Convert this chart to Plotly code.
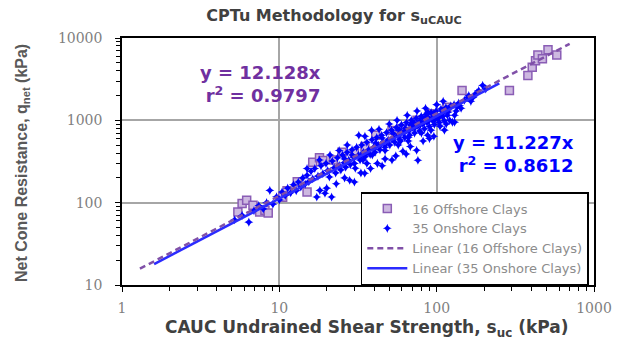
import plotly.graph_objects as go

# CAUC undrained shear strength s_uc (kPa) vs net cone resistance q_net (kPa)

offshore_x = [5.45, 5.8, 6.2, 6.8, 7.5, 8.1, 8.5, 10.5, 11.2, 13, 15, 16.3, 18, 18.9,
              22, 25, 30, 35, 41, 52, 60, 75, 90, 116, 145, 290, 380, 405, 425, 440,
              470, 510, 580]
offshore_y = [77, 98, 107, 93, 77, 81, 75, 116, 140, 180, 135, 310, 350, 325,
              330, 410, 400, 480, 660, 750, 780, 1000, 1200, 1440, 2300, 2300, 3500,
              4400, 5300, 6200, 5600, 7200, 6200]

onshore_x = [5.2, 5.8, 6.4, 6.9, 7.4, 7.9, 8.3, 8.7, 9.1, 9.6, 10.0, 10.4, 10.9, 11.3,
             11.8, 12.3, 12.8, 13.2, 13.7, 14.1, 14.6, 15.0, 15.4, 15.9, 16.3, 16.8,
             17.3, 17.6, 18.1, 18.4, 18.9, 19.5, 19.8, 20.3, 20.8, 21.5, 21.7, 22.3,
             22.8, 23.4, 24.0, 24.6, 25.2, 25.8, 26.4, 27.0, 27.6, 28.0, 28.3, 29.0,
             29.7, 30.0, 30.4, 31.0, 31.8, 32.0, 32.6, 33.4, 34.2, 34.9, 35.1, 36.0,
             36.9, 37.8, 38.6, 38.8, 39.7, 40.6, 41.6, 42.6, 43.6, 44.7, 45.8, 46.9,
             48.0, 49.2, 50.4, 51.6, 52.9, 54.2, 55.5, 56.9, 58.3, 59.7, 61.2, 62.7,
             64.2, 65.8, 67.4, 69.0, 70.7, 72.4, 74.6, 74.2, 76.0, 76.0, 77.9, 79.8,
             81.7, 83.7, 85.7, 87.6, 87.8, 90.0, 92.2, 94.4, 96.7, 99.1, 101.5, 104,
             106.5, 109, 112, 114.5, 117, 121, 123, 126, 129, 133, 138, 143, 150, 158,
             165, 175, 185, 196, 205,
             33, 36, 40, 44, 48, 52, 57, 62, 67, 73, 79, 86, 93, 101, 110, 45, 53, 63,
             72, 83, 95, 108, 26, 29, 41, 58, 68, 78, 88, 98, 118, 130, 140, 57, 66,
             80, 92, 105, 115,
             15, 18, 21, 24, 27, 35, 43, 50, 56, 65, 75, 85, 100, 110,
             20, 23, 26, 33, 38, 42, 47, 55, 61, 68, 82, 96, 112, 130, 45, 52, 36, 64, 90,
             30, 34, 39, 47, 59, 66, 70, 88, 97, 104, 120, 135, 160, 170, 180]
onshore_y = [62, 70, 58, 80, 92, 84, 100, 141, 96, 118, 108, 135, 122, 150,
             132, 165, 140, 178, 155, 200, 168, 215, 180, 240, 195, 260,
             117, 210, 141, 280, 225, 130, 300, 245, 205, 117, 320, 265,
             230, 350, 285, 250, 380, 305, 270, 410, 330, 187, 290, 440,
             355, 178, 262, 470, 380, 658, 330, 500, 410, 228, 360, 540,
             440, 385, 757, 580, 470, 410, 620, 500, 440, 660, 540, 470,
             710, 580, 500, 760, 620, 540, 820, 660, 580, 880, 710, 620,
             940, 760, 660, 1000, 810, 700, 433, 1060, 327, 860, 740, 1120,
             910, 790, 1180, 658, 960, 840, 1240, 1010, 890, 1300, 1060, 940,
             1370, 1110, 990, 1430, 1150, 1000, 1500, 950, 1560, 1300, 1620, 1400, 1750, 1900,
             1700, 2050, 2300, 2655, 2400,
             370, 400, 450, 500, 540, 590, 640, 700, 750, 820, 890, 960, 1040, 1130, 1230, 610, 690, 800,
             930, 1050, 1180, 1300, 340, 380, 530, 760, 880, 980, 1100, 1220, 1250, 1150, 1500, 500, 560,
             700, 760, 850, 900,
             260, 330, 380, 430, 500, 640, 780, 900, 1000, 1150, 1300, 1400, 1550, 1700,
             150, 170, 200, 230, 260, 300, 340, 370, 420, 480, 560, 640, 760, 950, 280, 330, 300, 390, 600,
             300, 330, 380, 430, 560, 620, 870, 1250, 1000, 1100, 1400, 1450, 2000, 1900, 2150]

# linear fits through the origin
slope_off = 12.128
slope_on = 11.227
fit_off_x = [1.3, 700]
fit_on_x = [1.6, 250]

PURPLE = "#7030A0"
BLUE = "#0000FF"

fig = go.Figure()

fig.add_trace(go.Scatter(
    x=offshore_x, y=offshore_y, mode="markers", name="16 Offshore Clays",
    legendrank=1,
    marker=dict(symbol="square", size=8, color="#CDB8E0",
                line=dict(color="#8A5DB5", width=1.5)),
))
fig.add_trace(go.Scatter(
    x=onshore_x, y=onshore_y, mode="markers", name="35 Onshore Clays",
    legendrank=2,
    marker=dict(symbol="star-diamond", size=6.5, color=BLUE, line=dict(width=0)),
))
fig.add_trace(go.Scatter(
    x=fit_on_x, y=[slope_on * v for v in fit_on_x], mode="lines",
    name="Linear (35 Onshore Clays)", legendrank=4,
    line=dict(color="#2B2BFF", width=2.5),
))
fig.add_trace(go.Scatter(
    x=fit_off_x, y=[slope_off * v for v in fit_off_x], mode="lines",
    name="Linear (16 Offshore Clays)", legendrank=3,
    line=dict(color="#8050A8", width=2.5, dash="6px,4px"),
))

axis_common = dict(
    type="log", showline=True, linecolor="black", linewidth=1.5, mirror=True,
    showgrid=True, gridcolor="#A6A6A6", gridwidth=1.5, zeroline=False,
    ticks="outside", ticklen=5, tickcolor="black", tickwidth=1.2,
    tickfont=dict(family="DejaVu Serif", size=14, color="#7F7F7F"),
    minor=dict(ticks="outside", ticklen=4, tickcolor="black", tickwidth=1,
               dtick="D1", showgrid=False),
)

fig.update_layout(
    width=624, height=347,
    margin=dict(l=122, r=30, t=38, b=62),
    paper_bgcolor="white", plot_bgcolor="white",
    showlegend=True,
    title=dict(text="CPTu Methodology for s<sub>uCAUC</sub>",
               x=334 / 624, xanchor="center", y=1 - 15 / 347, yanchor="middle",
               font=dict(family="DejaVu Sans", size=16, color="#404040", weight="bold")),
    xaxis=dict(axis_common, range=[0, 3], tickvals=[1, 10, 100, 1000],
               ticktext=["1", "10", "100", "1000"], ticklabelstandoff=4),
    yaxis=dict(axis_common, range=[1, 4], tickvals=[10, 100, 1000, 10000],
               ticktext=["10", "100", "1000", "10000"], ticklabelstandoff=10),
    legend=dict(x=0.989, xanchor="right", y=0.3765, yanchor="top",
                bgcolor="white", bordercolor="black", borderwidth=1.5,
                font=dict(family="DejaVu Sans", size=13, color="#8C8C8C"),
                tracegroupgap=0, itemwidth=40),
    annotations=[
        dict(text="CAUC Undrained Shear Strength, s<sub>uc</sub> (kPa)",
             xref="paper", yref="paper", x=(366 - 122) / 472, y=(285 - 328) / 247,
             xanchor="center", yanchor="middle", showarrow=False,
             font=dict(family="DejaVu Sans", size=17, color="#404040", weight="bold")),
        dict(text="Net Cone Resistance, q<sub>net</sub> (kPa)", textangle=-90,
             xref="paper", yref="paper", x=(22 - 122) / 472, y=(285 - 163) / 247,
             xanchor="center", yanchor="middle", showarrow=False,
             font=dict(family="Liberation Sans", size=16, color="#595959", weight="bold")),
        dict(text="y = 12.128x<br>r<sup>2</sup> = 0.9797",
             xref="paper", yref="paper", x=(260 - 122) / 472, y=(285 - 84) / 247,
             xanchor="center", yanchor="middle", showarrow=False, align="right",
             font=dict(family="DejaVu Sans", size=18, color=PURPLE, weight="bold")),
        dict(text="y = 11.227x<br>r<sup>2</sup> = 0.8612",
             xref="paper", yref="paper", x=(513 - 122) / 472, y=(285 - 154) / 247,
             xanchor="center", yanchor="middle", showarrow=False, align="right",
             font=dict(family="DejaVu Sans", size=18, color=BLUE, weight="bold")),
    ],
)

fig.write_html("out.html")
